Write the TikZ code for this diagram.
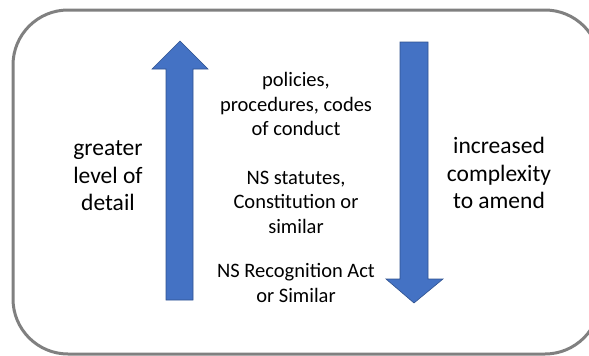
\documentclass[tikz,border=0pt]{standalone}
\usepackage{fontspec}
\setmainfont{Carlito}
\definecolor{arrowblue}{RGB}{68,114,196}
\definecolor{arrowedge}{RGB}{47,82,143}
\definecolor{framegray}{RGB}{128,128,128}
\tikzset{
  frame/.style={draw=framegray, line width=3pt, rounded corners=55pt},
  blockarrow/.style={fill=arrowblue, draw=arrowedge, line width=0.6pt, line join=miter},
  sidetext/.style={align=center, font=\fontsize{23.5}{27.5}\selectfont},
  midtext/.style={align=center, font=\fontsize{20.5}{24.5}\selectfont}
}
\begin{document}
\begin{tikzpicture}[x=1pt,y=-1pt]
  \useasboundingbox (0,0) rectangle (589,356);
  \draw[frame] (13,10) rectangle (600,354);
  % up arrow
  \filldraw[blockarrow] (166,300) -- (166,69) -- (152,69) -- (180,41)
    -- (208,69) -- (193,69) -- (193,300) -- cycle;
  % down arrow
  \filldraw[blockarrow] (400,42) -- (400,279) -- (386,279) -- (414,303)
    -- (443,279) -- (428,279) -- (428,42) -- cycle;
  \node[sidetext] (detail) at (108,176) {greater\\level of\\detail};
  \node[sidetext] (amend) at (499,173) {increased\\complexity\\to amend};
  \node[midtext] (policies) at (296,104) {policies,\\procedures, codes\\of conduct};
  \node[midtext] (statutes) at (296,202) {NS statutes,\\Constitution or\\similar};
  \node[midtext] (act) at (296,283) {NS Recognition Act\\or Similar};
\end{tikzpicture}
\end{document}
